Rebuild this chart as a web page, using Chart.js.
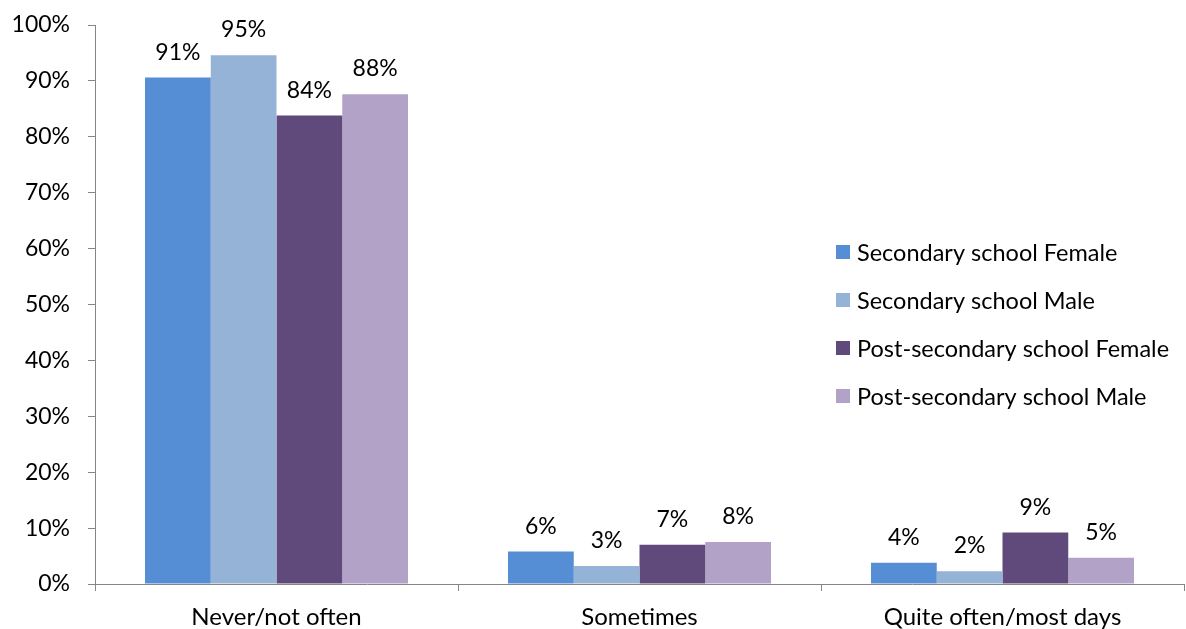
<!DOCTYPE html>
<html><head><meta charset="utf-8">
<script src="https://cdn.jsdelivr.net/npm/chart.js@4/dist/chart.umd.min.js"></script>
<style>html,body{margin:0;padding:0;background:#fff;}#wrap{width:1186px;height:629px;position:relative;}</style>
</head><body><div id="wrap"><canvas id="c" width="1186" height="629"></canvas></div>
<script>
const categories = ["Never/not often", "Sometimes", "Quite often/most days"];
const seriesNames = ["Secondary school Female", "Secondary school Male", "Post-secondary school Female", "Post-secondary school Male"];
const secFemale = [90.6, 5.8, 3.8];
const secMale = [94.6, 3.2, 2.3];
const postFemale = [83.8, 7.0, 9.2];
const postMale = [87.6, 7.5, 4.7];
const colors = ["#558ED5", "#95B3D7", "#604A7B", "#B3A2C7"];
const yTicks = [0,10,20,30,40,50,60,70,80,90,100];
const FONT = "Lato, 'Open Sans', sans-serif";

const labelPlugin = {
  id: 'valLabels',
  afterDatasetsDraw(chart) {
    const ctx = chart.ctx;
    ctx.save();
    ctx.font = "23px " + FONT;
    ctx.fillStyle = "#000";
    ctx.textAlign = "center";
    ctx.textBaseline = "alphabetic";
    chart.data.datasets.forEach((ds, i) => {
      chart.getDatasetMeta(i).data.forEach((el, j) => {
        ctx.fillText(Math.round(ds.data[j]) + "%", el.x, el.y - 18);
      });
    });
    ctx.restore();
  }
};
const legendPlugin = {
  id: 'sideLegend',
  afterDraw(chart) {
    const ctx = chart.ctx;
    ctx.save();
    ctx.font = "23.5px " + FONT;
    ctx.textBaseline = "middle";
    ctx.textAlign = "left";
    chart.data.datasets.forEach((ds, i) => {
      const cy = 252 + i * 48;
      ctx.fillStyle = ds.backgroundColor;
      ctx.fillRect(836, cy - 7, 14, 14);
      ctx.fillStyle = "#000";
      ctx.fillText(ds.label, 857, cy + 1);
    });
    ctx.restore();
  }
};

const seriesData = [secFemale, secMale, postFemale, postMale];
new Chart(document.getElementById('c'), {
  type: 'bar',
  data: {
    labels: categories,
    datasets: seriesNames.map((n, i) => ({
      label: n, data: seriesData[i], backgroundColor: colors[i],
      borderWidth: 0, categoryPercentage: 0.7245, barPercentage: 1.0
    }))
  },
  options: {
    responsive: false, animation: false,
    layout: { padding: { top: 25, right: 2, left: 0, bottom: 0 } },
    plugins: { legend: { display: false }, tooltip: { enabled: false } },
    scales: {
      x: {
        grid: { drawOnChartArea: false, drawTicks: true, tickLength: 7, color: "#868686", offset: true },
        border: { color: "#868686", width: 1 },
        ticks: { color: "#000", font: { family: FONT, size: 24 }, padding: 12, maxRotation: 0 },
        afterFit(s) { s.height = 45; s.paddingLeft = 0; s.paddingRight = 0; }
      },
      y: {
        min: 0, max: 100,
        afterBuildTicks(s) { s.ticks = yTicks.map(v => ({ value: v })); },
        grid: { drawOnChartArea: false, drawTicks: true, tickLength: 7, color: "#868686" },
        border: { color: "#868686", width: 1 },
        ticks: { color: "#000", font: { family: FONT, size: 23 }, padding: 18, callback: v => v + "%" },
        afterFit(s) { s.width = 95; s.paddingTop = 0; s.paddingBottom = 0; }
      }
    }
  },
  plugins: [labelPlugin, legendPlugin]
});
</script></body></html>
